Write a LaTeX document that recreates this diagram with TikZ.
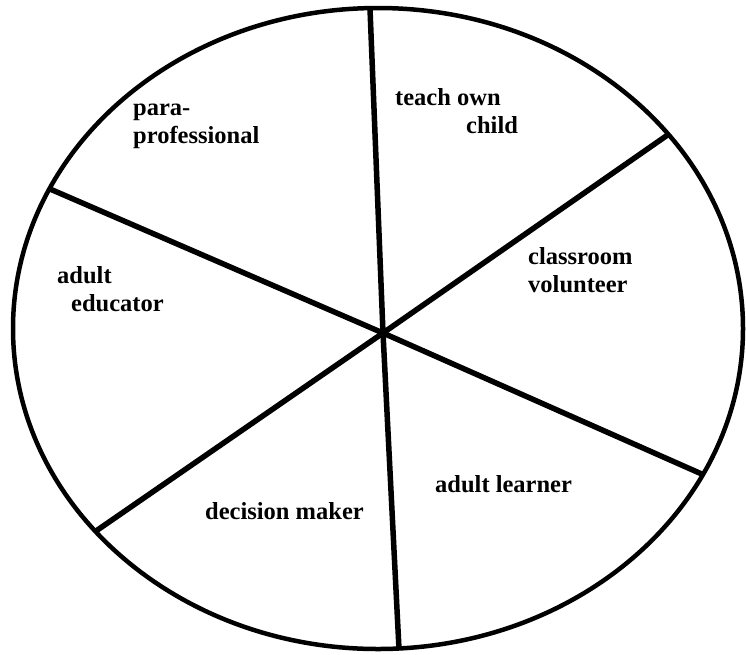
\documentclass[tikz,border=0pt]{standalone}
\usepackage{fontspec}
\setmainfont{Liberation Serif}
\usepackage{tikz}

\begin{document}
\begin{tikzpicture}[
  x=1pt, y=-1pt,
  rim/.style={draw=black, line width=4.5pt},
  spoke/.style={draw=black, line width=5.5pt},
  role/.style={
    font=\bfseries\fontsize{24.5}{27.5}\selectfont,
    align=left, inner sep=0pt, anchor=base west
  }
]
\useasboundingbox (0,0) rectangle (746,654);

% ---- Rim ----
\draw[rim] (378,328.5) ellipse [x radius=365, y radius=320.5];

% ---- Spoke ends ----
\coordinate (hub) at (383,333);
\coordinate (topEnd) at (370,9);
\coordinate (botEnd) at (399,649);
\coordinate (ulEnd) at (50,189);
\coordinate (lrEnd) at (704,475);
\coordinate (urEnd) at (669,134);
\coordinate (llEnd) at (96,531);

% Spokes through the hub
\draw[spoke] (topEnd) -- (hub) -- (botEnd);
\draw[spoke] (ulEnd) -- (hub) -- (lrEnd);
\draw[spoke] (urEnd) -- (hub) -- (llEnd);

% ---- Roles ----
\node[role] (para) at (133,143) {para-\\professional};
\node[role] (teach) at (395,133) {teach own\\\hspace*{71pt}child};
\node[role] (volunteer) at (528,292) {classroom\\volunteer};
\node[role] (educator) at (57,311) {adult\\\hspace*{14pt}educator};
\node[role] (learner) at (435,492) {adult learner};
\node[role] (decision) at (205,519) {decision maker};

\end{tikzpicture}
\end{document}
